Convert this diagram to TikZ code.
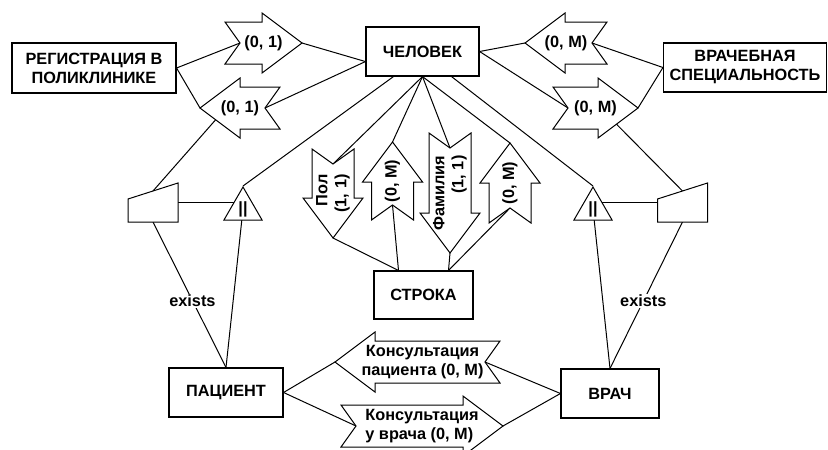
\documentclass[tikz,border=0pt]{standalone}
\usepackage{fontspec}
\setmainfont{Liberation Sans}
\usetikzlibrary{calc,shapes.geometric}
\pgfdeclarelayer{bg}
\pgfsetlayers{bg,main}
\tikzset{
    entity/.style={draw, line width=1.1pt, fill=white, rectangle, inner sep=0pt, align=center},
    isa/.style={draw, line width=1pt, fill=white, regular polygon, regular polygon sides=3, minimum size=44pt, inner sep=0pt},
    outline/.style={draw, line width=1pt, fill=white, line join=miter},
    arrowlabel/.style={inner sep=0pt, align=center},
    conn/.style={line width=1pt},
    pics/blockarrow/.style n args={3}{code={
        \draw[outline] (-#1/2,21) -- (#1/2-40,21) -- (#1/2-40,30) -- (#1/2,0)
            -- (#1/2-40,-30) -- (#1/2-40,-21) -- (-#1/2,-21) -- (-#1/2+15,0) -- cycle;
        \coordinate (-tip) at (#1/2,0);
        \coordinate (-notch) at (-#1/2+15,0);
        \coordinate (-c) at (0,0);
        \node[arrowlabel,#3] (-txt) at (0,0) {#2};
    }},
    pics/maninput/.style={code={
        \draw[outline] (-25,-3.5) -- (25,-19.5) -- (25,19.5) -- (-25,19.5) -- cycle;
        \coordinate (-top) at (0,-11.5);
        \coordinate (-bot) at (0,19.5);
        \coordinate (-e) at (25,0);
        \coordinate (-w) at (-25,0);
    }}
}

\begin{document}
\begin{tikzpicture}[x=1pt, y=-1pt, font=\fontsize{16.3}{19}\selectfont\bfseries]
\useasboundingbox (0,0) rectangle (828,450);

% entities
\node[entity, minimum width=113pt, minimum height=49pt] (chel) at (422.5,51.5) {ЧЕЛОВЕК};
\node[entity, minimum width=164pt, minimum height=50pt] (reg) at (94,68) {РЕГИСТРАЦИЯ В\\ПОЛИКЛИНИКЕ};
\node[entity, minimum width=163pt, minimum height=49pt] (spec) at (745,67.5) {ВРАЧЕБНАЯ\\СПЕЦИАЛЬНОСТЬ};
\node[entity, minimum width=99pt, minimum height=48pt] (stroka) at (423.5,295) {СТРОКА};
\node[entity, minimum width=114pt, minimum height=49pt] (pac) at (226,392.5) {ПАЦИЕНТ};
\node[entity, minimum width=98pt, minimum height=49pt] (vrach) at (610,393.5) {ВРАЧ};

% subtypes
\pic (trapL) at (153,202.5) {maninput};
\pic (trapR) at (682.5,202.5) {maninput};
\node[isa] (trL) at (243,209) {||};
\node[isa] (trR) at (593,209) {||};

% relationships
\pic (a1) at (263.5,43) {blockarrow={77}{(0, 1)}{}};
\pic[rotate=180] (a2) at (240,108) {blockarrow={80}{(0, 1)}{}};
\pic[rotate=180] (a3) at (566,43) {blockarrow={82}{(0, M)}{}};
\pic (a4) at (595.5,108) {blockarrow={85}{(0, M)}{}};
\pic[rotate=-90] (pol) at (333,193.5) {blockarrow={89}{Пол\\(1, 1)}{rotate=90, align=right}};
\pic[rotate=90] (om1) at (392.5,181) {blockarrow={78}{(0, M)}{rotate=90}};
\pic[rotate=-90] (fam) at (450,193) {blockarrow={120}{Фамилия\\(1, 1)}{rotate=90, align=right}};
\pic[rotate=90] (om2) at (510,183) {blockarrow={80}{(0, M)}{rotate=90}};
\pic[rotate=180] (a5) at (417.5,362) {blockarrow={165}{Консультация\\пациента (0, M)}{xshift=5pt}};
\pic (a6) at (422,426) {blockarrow={162}{Консультация\\у врача (0, M)}{align=left}};

% connectors
\begin{pgfonlayer}{bg}
\draw[conn] (reg.east) -- (a1-notch);
\draw[conn] (a1-tip) -- (chel.190);
\draw[conn] (reg.east) -- (a2-tip);
\draw[conn] (a2-notch) -- (chel.190);
\draw[conn] (chel.east) -- (a3-tip);
\draw[conn] (a3-notch) -- (spec.west);
\draw[conn] (chel.east) -- (a4-notch);
\draw[conn] (a4-tip) -- (spec.west);

\draw[conn] (chel.south) -- (pol-notch);
\draw[conn] (chel.south) -- (om1-tip);
\draw[conn] (chel.south) -- (fam-notch);
\draw[conn] (chel.south) -- (om2-tip);
\draw[conn] (pol-tip) -- ($(stroka.north)+(-25,0)$);
\draw[conn] (om1-notch) -- ($(stroka.north)+(-25,0)$);
\draw[conn] (fam-tip) -- ($(stroka.north)+(25,0)$);
\draw[conn] (om2-notch) -- ($(stroka.north)+(25,0)$);

% left subtype
\draw[conn] (trapL-top) -- ($(a2-c)+(-14,0)$);
\draw[conn] (trapL-e) -- (trapL-e -| trL.center);
\draw[conn] (trL.corner 1) -- ($(chel.south)+(-29,0)$);
\draw[conn] (trL.center) -- (pac.north);
\draw[conn] (trapL-bot) -- node[pos=0.54, fill=white, inner sep=1pt] (exL) {exists} (pac.north);

% right subtype
\draw[conn] (trapR-top) -- ($(a4-c)+(5,0)$);
\draw[conn] (trapR-w) -- (trapR-w -| trR.center);
\draw[conn] (trR.corner 1) -- ($(chel.south)+(29,0)$);
\draw[conn] (trR.center) -- (vrach.north);
\draw[conn] (trapR-bot) -- node[pos=0.54, fill=white, inner sep=1pt] (exR) {exists} (vrach.north);

\draw[conn] (pac.east) -- (a5-tip);
\draw[conn] (pac.east) -- (a6-notch);
\draw[conn] (a5-notch) -- (vrach.west);
\draw[conn] (a6-tip) -- (vrach.west);
\end{pgfonlayer}
\end{tikzpicture}
\end{document}
